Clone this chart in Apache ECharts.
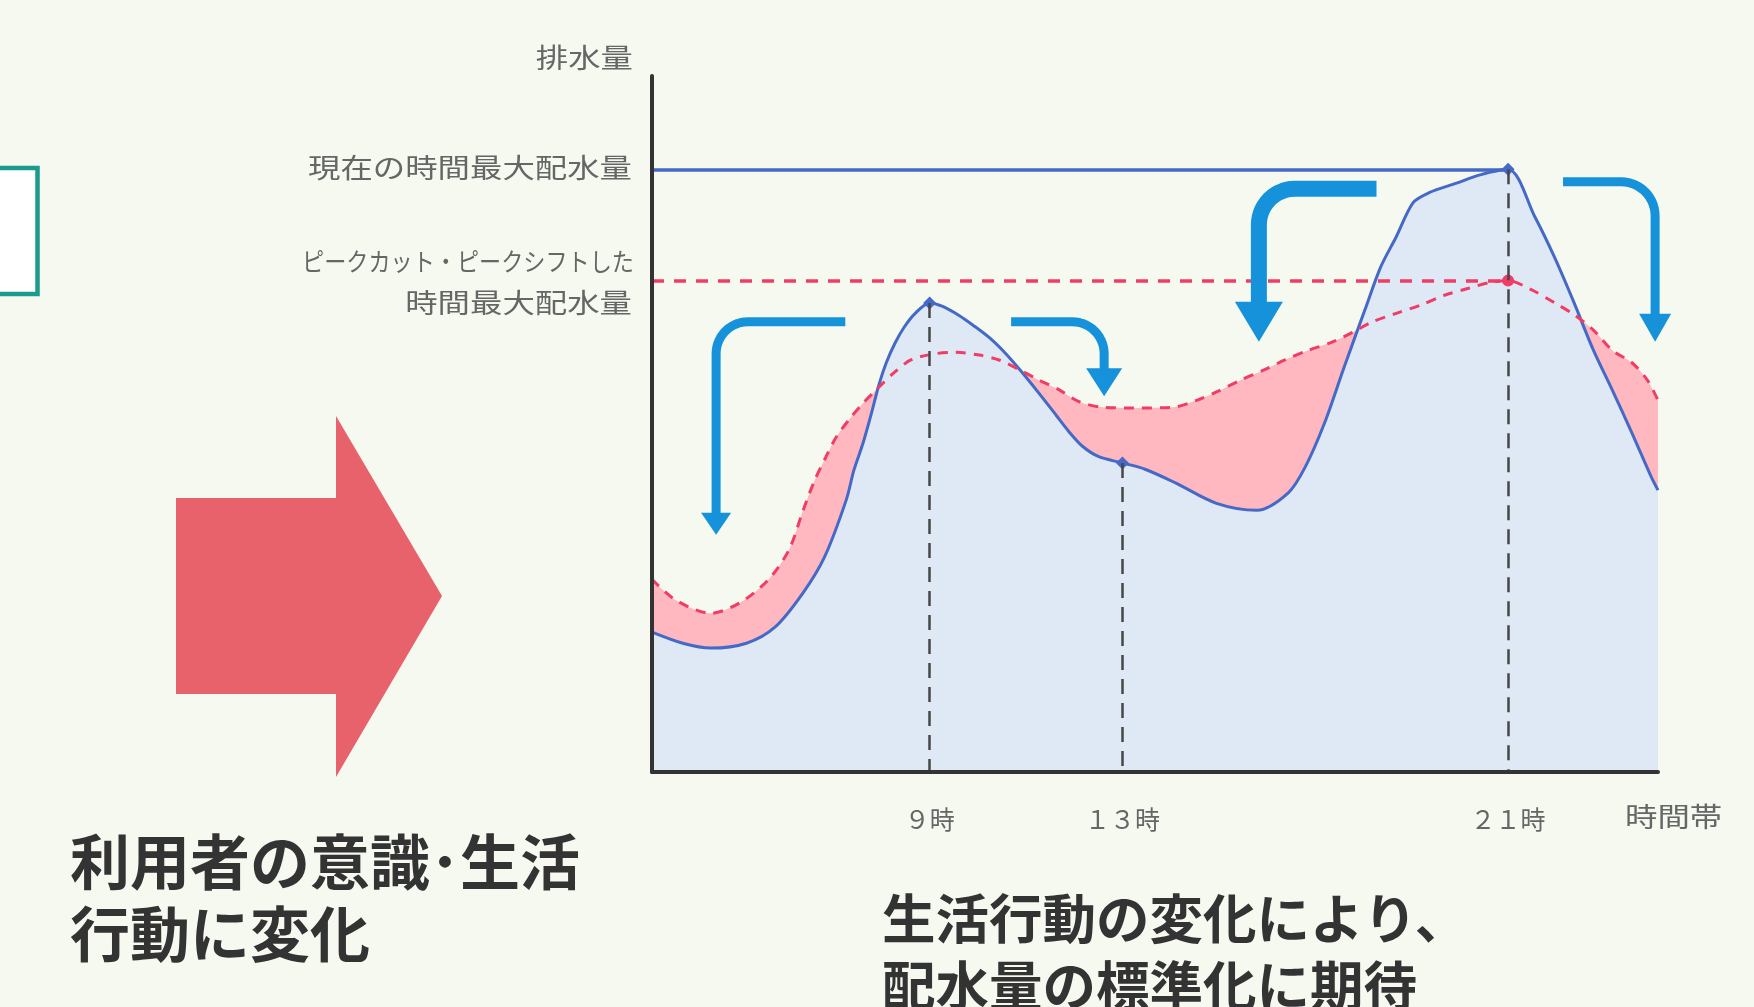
<!DOCTYPE html>
<html lang="ja">
<head>
<meta charset="utf-8">
<title>ピークカット・ピークシフトによる配水量の標準化</title>
<script src="https://cdn.jsdelivr.net/npm/echarts@6/dist/echarts.min.js"></script>
<style>
  html, body { margin: 0; padding: 0; background: #f5f9ef; }
  #chart { width: 1754px; height: 1007px; }
</style>
</head>
<body>
<div id="chart"></div>
<script>
// 現在の配水量カーブ(時刻 → 配水量の相対値)
const currentHours = [3.24, 3.88, 4.46, 5.20, 5.79, 6.37, 6.82, 7.27, 7.43, 7.62,
  7.81, 7.95, 8.10, 8.28, 8.47, 8.70, 9.00, 9.27, 9.61, 9.90,
  10.24, 10.58, 10.92, 11.27, 11.62, 11.89, 12.17, 12.51, 13.00, 13.47,
  14.11, 14.95, 15.79, 16.44, 16.79, 17.19, 17.60, 18.03, 18.36, 18.68,
  19.03, 19.35, 19.93, 20.42, 21.00, 21.56, 21.96, 22.37, 22.77, 23.16,
  23.57, 23.97, 24.11];
const currentFlow = [20.1, 18.5, 17.8, 18.5, 20.8, 25.7, 30.9, 39.1, 43.4, 47.3,
  52.0, 55.7, 58.8, 61.6, 63.9, 65.9, 67.4, 66.9, 65.6, 64.2,
  62.4, 60.1, 57.4, 54.4, 51.3, 48.9, 46.8, 45.3, 44.4, 43.5,
  41.5, 38.6, 37.6, 40.1, 43.8, 50.1, 58.2, 66.4, 72.6, 76.9,
  81.8, 83.2, 84.6, 85.8, 86.6, 79.7, 74.0, 67.4, 60.6, 54.9,
  48.7, 42.4, 40.5];

// ピークカット・ピークシフト後の配水量カーブ
const shiftedHours = [3.24, 3.73, 4.46, 5.06, 5.65, 6.08, 6.37, 6.62, 6.85, 7.06,
  7.37, 7.62, 7.89, 8.25, 8.61, 9.12, 9.55, 10.03, 10.44, 10.86,
  11.27, 11.69, 12.10, 12.59, 13.23, 14.04, 14.54, 14.95, 15.45, 15.95,
  16.37, 16.86, 17.36, 17.78, 18.19, 18.68, 19.19, 19.68, 20.18, 20.60,
  21.00, 21.48, 21.97, 22.37, 22.77, 23.16, 23.57, 23.89, 24.11];
const shiftedFlow = [27.7, 24.7, 22.8, 24.3, 27.6, 31.9, 37.5, 42.0, 45.3, 48.1,
  51.0, 53.0, 54.9, 57.3, 59.2, 60.1, 60.3, 59.9, 59.2, 57.8,
  56.3, 54.9, 53.2, 52.4, 52.3, 52.4, 53.4, 54.6, 56.3, 57.8,
  59.2, 60.6, 61.8, 63.2, 64.7, 65.9, 67.1, 68.5, 69.5, 70.3,
  70.6, 69.3, 67.4, 65.7, 63.5, 60.6, 58.8, 56.3, 53.4];

// 目盛り(時刻)とその表記
const tickHours = [9, 13, 21];
const tickLabels = ['９時', '１３時', '２１時'];
// 現在のカーブ上で印を付ける時刻
const markedHours = [9, 13, 21];
// 横軸の範囲(時)
const hourRange = [3.24, 24.11];

// 需要の移動を示す矢印:始点と矢先(時刻, 配水量)
const shiftArrowFrom = [[7.25, 64.7], [10.69, 64.7], [18.27, 83.8], [22.14, 84.8]];
const shiftArrowTo   = [[4.57, 34.1], [12.62, 54.0], [15.83, 61.8], [24.05, 61.8]];

// ---- 描画設定 ----
const FONT = '"Noto Sans CJK JP", "Noto Sans CJK SC", sans-serif';
const BLUE = '#4569c6';
const PINK = '#f03d66';
const ARROW_BLUE = '#1592da';
// 矢印ごとの太さ・矢じり(幅, 長さ)・曲がり半径
const arrowLook = [
  { shaft: 9,  headW: 30, headL: 22, r: 32 },
  { shaft: 9,  headW: 36, headL: 28, r: 32 },
  { shaft: 16, headW: 48, headL: 40, r: 36 },
  { shaft: 9,  headW: 32, headL: 28, r: 34 }
];

const pairs = (hs, vs) => hs.map((h, i) => [h, vs[i]]);
const currentMax = Math.max(...currentFlow);
const currentPeakHour = currentHours[currentFlow.indexOf(currentMax)];
const shiftedMax = Math.max(...shiftedFlow);
const shiftedPeakHour = shiftedHours[shiftedFlow.indexOf(shiftedMax)];
const flowAt = (h) => currentFlow[currentHours.indexOf(h)];

const currentData = pairs(currentHours, currentFlow).map(p =>
  markedHours.includes(p[0])
    ? { value: p, symbol: 'diamond', symbolSize: 13, itemStyle: { color: BLUE } }
    : p);
const shiftedData = pairs(shiftedHours, shiftedFlow);
const shiftedLineData = shiftedData.map(p =>
  p[0] === shiftedPeakHour
    ? { value: p, symbol: 'circle', symbolSize: 12, itemStyle: { color: PINK } }
    : p);

const dropLine = { type: [15, 9], color: '#474747', width: 2.5 };

const option = {
  backgroundColor: '#f5f9ef',
  animation: false,
  grid: { left: 652, right: 96, top: 76, bottom: 235, outerBoundsMode: 'none' },
  xAxis: {
    type: 'value', min: hourRange[0], max: hourRange[1], z: 10,
    axisLine: { show: true, onZero: false, lineStyle: { color: '#333', width: 4 } },
    axisTick: { show: false },
    splitLine: { show: false },
    axisLabel: {
      customValues: tickHours,
      formatter: v => tickLabels[tickHours.indexOf(v)],
      fontSize: 25, fontFamily: FONT, color: '#666', margin: 35
    }
  },
  yAxis: {
    type: 'value', min: 0, max: 100, z: 10,
    axisLine: { show: true, lineStyle: { color: '#333', width: 4 } },
    axisTick: { show: false },
    axisLabel: { show: false },
    splitLine: { show: false }
  },
  series: [
    {
      // シフト後カーブの塗り(現在のカーブより上に出る部分が見える)
      name: 'ピークカット・ピークシフト後', type: 'line', data: shiftedData,
      smooth: 0.3, symbol: 'none', z: 1, silent: true,
      lineStyle: { opacity: 0 },
      areaStyle: { color: '#ffb8bf', opacity: 1 }
    },
    {
      name: '現在', type: 'line', data: currentData,
      smooth: 0.3, symbol: 'none', z: 2, silent: true,
      lineStyle: { color: BLUE, width: 3 },
      areaStyle: { color: '#dfe8f5', opacity: 1 },
      markLine: {
        silent: true, symbol: 'none', animation: false,
        label: { show: false },
        data: [
          [{ coord: [hourRange[0], currentMax], lineStyle: { type: 'solid', color: BLUE, width: 3.5 } },
           { coord: [currentPeakHour, currentMax] }],
          ...markedHours.map(h => [
            { coord: [h, flowAt(h)], lineStyle: dropLine },
            { coord: [h, 0] }
          ])
        ]
      }
    },
    {
      name: 'ピークカット・ピークシフト後', type: 'line', data: shiftedLineData,
      smooth: 0.3, symbol: 'none', z: 3, silent: true,
      lineStyle: { color: PINK, width: 3, type: [10, 8] },
      markLine: {
        silent: true, symbol: 'none', animation: false,
        label: { show: false },
        data: [
          [{ coord: [hourRange[0], shiftedMax], lineStyle: { type: [12, 10], color: PINK, width: 3.5 } },
           { coord: [shiftedPeakHour, shiftedMax] }]
        ]
      }
    }
  ]
};

const chart = echarts.init(document.getElementById('chart'));
chart.setOption(option);

const toPx = p => chart.convertToPixel({ seriesIndex: 1 }, p);

// 横に伸びてから下へ曲がる矢印
function bentArrow(from, to, look) {
  const dir = Math.sign(to[0] - from[0]);
  const cx = to[0], yTop = from[1];
  const baseY = to[1] - look.headL;
  const r = Math.min(look.r, Math.abs(cx - from[0]), baseY - yTop);
  const pts = [[from[0], yTop], [cx - dir * r, yTop]];
  for (let i = 1; i <= 14; i++) {
    const a = i / 14 * Math.PI / 2;
    pts.push([cx - dir * r + dir * r * Math.sin(a), yTop + r - r * Math.cos(a)]);
  }
  pts.push([cx, baseY + 1]);
  return [
    { type: 'polyline', z: 120, silent: true, shape: { points: pts },
      style: { stroke: ARROW_BLUE, lineWidth: look.shaft, fill: null, lineJoin: 'round' } },
    { type: 'polygon', z: 120, silent: true,
      shape: { points: [[cx - look.headW / 2, baseY], [cx + look.headW / 2, baseY], [cx, to[1]]] },
      style: { fill: ARROW_BLUE } }
  ];
}

const axisLeft = toPx([hourRange[0], 0])[0];
const axisTop = toPx([hourRange[0], 100])[1];
const axisBottom = toPx([hourRange[0], 0])[1];
const axisRight = toPx([hourRange[1], 0])[0];
const blueY = toPx([hourRange[0], currentMax])[1];
const pinkY = toPx([hourRange[0], shiftedMax])[1];
const labelRight = axisLeft - 20;

function smallText(text, x, y, align, sx, size) {
  return { type: 'text', z: 110, silent: true, x: x, y: y, scaleX: sx,
    style: { text: text, fontSize: size || 27, fontFamily: FONT, fill: '#666',
             align: align, verticalAlign: 'middle' } };
}

const graphics = [];
shiftArrowFrom.forEach((f, i) => {
  graphics.push(...bentArrow(toPx(f), toPx(shiftArrowTo[i]), arrowLook[i]));
});

graphics.push(
  smallText('排水量', labelRight + 1, axisTop - 18, 'right', 1.2),
  smallText('現在の時間最大配水量', labelRight, blueY - 2, 'right', 1.2),
  smallText('ピークカット・ピークシフトした', labelRight + 2, pinkY - 19, 'right', 0.885, 25),
  smallText('時間最大配水量', labelRight, pinkY + 22, 'right', 1.2),
  smallText('時間帯', axisRight - 33, axisBottom + 45, 'left', 1.2)
);

// 左側の枠
graphics.push({
  type: 'rect', z: 100, silent: true,
  shape: { x: -10, y: 168, width: 47.5, height: 126 },
  style: { fill: '#ffffff', stroke: '#1a9b8b', lineWidth: 4.5 }
});

// 右向きの大きな矢印
graphics.push({
  type: 'polygon', z: 100, silent: true,
  shape: { points: [[176, 498], [336, 498], [336, 416], [442, 596], [336, 777], [336, 694], [176, 694]] },
  style: { fill: '#e8626b' }
});

function bigText(text, x, y, size) {
  return { type: 'text', z: 110, silent: true, x: x, y: y,
    style: { text: text, fontSize: size, fontWeight: 'bold', fontFamily: FONT,
             fill: '#333', align: 'left', verticalAlign: 'middle' } };
}
graphics.push(
  bigText('利用者の意識･生活', 70, 862, 60),
  bigText('行動に変化', 70, 934, 60),
  bigText('生活行動の変化により、', 882, 919, 53.5),
  bigText('配水量の標準化に期待', 882, 986, 53.5)
);

chart.setOption({ graphic: graphics });
</script>
</body>
</html>
